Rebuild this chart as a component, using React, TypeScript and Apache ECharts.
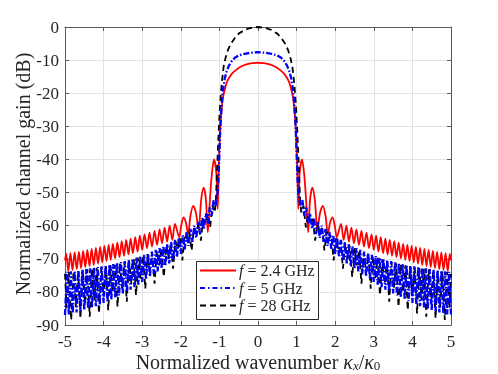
import React, { useEffect, useRef } from "react";
import * as echarts from "echarts";

// Right half (x >= 0) of each curve; the chart is mirrored about x = 0.
const redHalf: [number, number][] = [
  [0, -10.8], [0.15, -10.9], [0.3, -11.3], [0.45, -12.0], [0.55, -12.8], [0.65, -13.8],
  [0.72, -14.8], [0.78, -16.0], [0.83, -17.5], [0.87, -19.3], [0.91, -21.5], [0.94, -24.5],
  [0.97, -29], [0.99, -34], [1.01, -40], [1.03, -48], [1.045, -55], [1.08, -44], [1.14, -40],
  [1.2, -45], [1.25, -53], [1.3, -62], [1.35, -52], [1.41, -48.5], [1.47, -52], [1.54, -61],
  [1.61, -56], [1.68, -54], [1.75, -57], [1.81, -62.5], [1.87, -59], [1.93, -57.5], [1.99, -60],
  [2.04, -63.5], [2.15, -59.5], [2.22, -64.3], [2.29, -60.0], [2.355, -64.8], [2.42, -60.6],
  [2.485, -65.3], [2.55, -61.1], [2.615, -65.8], [2.68, -61.6], [2.745, -66.3], [2.81, -62.1],
  [2.875, -66.8], [2.94, -62.6], [3.0, -67.3], [3.06, -63.0], [3.12, -67.8], [3.18, -63.5],
  [3.24, -68.3], [3.3, -63.9], [3.357, -68.7], [3.415, -64.3], [3.472, -69.1], [3.53, -64.7],
  [3.587, -69.5], [3.645, -65.1], [3.702, -69.9], [3.76, -65.5], [3.815, -70.3], [3.87, -65.8],
  [3.925, -70.7], [3.98, -66.1], [4.035, -71.1], [4.09, -66.4], [4.145, -71.5], [4.2, -66.7],
  [4.255, -71.9], [4.31, -67.0], [4.365, -72.2], [4.42, -67.3], [4.475, -72.5], [4.53, -67.6],
  [4.585, -72.8], [4.64, -67.9], [4.695, -73.1], [4.75, -68.1], [4.805, -73.4], [4.86, -68.3],
  [4.915, -73.7], [4.97, -68.5], [5.0, -70.5],
];

const blueHalf: [number, number][] = [
  [0, -7.6], [0.2, -7.8], [0.35, -8.1], [0.5, -8.6], [0.6, -9.3], [0.68, -10.3], [0.75, -11.6],
  [0.81, -13.3], [0.86, -15.5], [0.9, -18.5], [0.93, -22], [0.96, -27], [0.985, -33],
  [1.005, -40], [1.025, -46], [1.05, -50.5],
  [1.1, -54], [1.15, -52.3], [1.2, -57], [1.25, -54.5], [1.3, -59.5], [1.35, -56.3],
  [1.4, -61], [1.45, -57.7], [1.5, -62.5], [1.55, -58.9], [1.6, -63.7], [1.65, -60],
  [1.7, -64.9], [1.75, -61], [1.8, -66.1], [1.85, -61.9], [1.9, -67.3], [1.95, -62.9],
  [2.0, -68.5], [2.05, -63.6], [2.1, -69.5], [2.15, -64.3], [2.2, -70.5], [2.25, -65],
  [2.3, -71.4], [2.35, -65.6], [2.4, -72.2], [2.45, -66.2], [2.5, -73], [2.55, -66.8],
  [2.6, -73.8], [2.65, -67.3], [2.7, -74.6], [2.75, -67.8], [2.8, -75.4], [2.85, -68.3],
  [2.9, -76.2], [2.95, -68.8], [3.0, -77], [3.05, -69.2], [3.1, -77.8], [3.15, -69.6],
  [3.2, -78.6], [3.25, -70], [3.3, -79.3], [3.35, -70.4], [3.4, -79.9], [3.45, -70.7],
  [3.5, -80.5], [3.55, -71], [3.6, -81.1], [3.65, -71.3], [3.7, -81.7], [3.75, -71.6],
  [3.8, -82.3], [3.85, -71.8], [3.9, -82.8], [3.95, -72.1], [4.0, -83.3], [4.05, -72.3],
  [4.1, -83.8], [4.15, -72.5], [4.2, -84.3], [4.25, -72.7], [4.3, -84.7], [4.35, -72.9],
  [4.4, -85.1], [4.45, -73.1], [4.5, -85.5], [4.55, -73.3], [4.6, -85.8], [4.65, -73.5],
  [4.7, -86.2], [4.75, -73.6], [4.8, -86.5], [4.85, -73.8], [4.9, -86.8], [4.95, -73.9],
  [5.0, -87],
];

const blackHalf: [number, number][] = [
  [0, 0], [0.2, -0.3], [0.35, -0.9], [0.5, -2], [0.6, -3.3], [0.7, -5], [0.78, -7],
  [0.84, -9.3], [0.89, -12], [0.93, -16], [0.96, -20], [0.99, -25], [1.02, -32], [1.05, -40],
  [1.07, -46], [1.09, -52],
  [1.12, -56], [1.18, -54], [1.24, -60.5], [1.3, -56.5], [1.36, -59], [1.42, -58], [1.48, -64.5],
  [1.54, -59.5], [1.6, -62], [1.66, -60.7], [1.72, -67.5], [1.78, -61.8], [1.84, -64],
  [1.9, -62.8], [1.96, -70.5], [2.02, -63.8], [2.08, -67], [2.14, -64.6], [2.2, -73],
  [2.26, -65.4], [2.32, -70], [2.38, -66.1], [2.44, -75.5], [2.5, -66.8], [2.56, -72],
  [2.62, -67.5], [2.68, -77.5], [2.74, -68.1], [2.8, -74], [2.86, -68.6], [2.92, -79],
  [2.98, -69.2], [3.04, -76], [3.1, -69.7], [3.16, -81], [3.22, -70.1], [3.28, -77.5],
  [3.34, -70.6], [3.4, -83], [3.46, -71], [3.52, -79], [3.58, -71.4], [3.64, -84.5],
  [3.7, -71.8], [3.76, -80], [3.82, -72], [3.88, -85.5], [3.94, -72.3], [4.0, -81],
  [4.06, -72.5], [4.12, -86.5], [4.18, -72.8], [4.24, -82.5], [4.3, -73], [4.36, -87.5],
  [4.42, -73.2], [4.48, -83.5], [4.54, -73.4], [4.6, -88], [4.66, -73.6], [4.72, -84.5],
  [4.78, -73.8], [4.84, -88.5], [4.9, -74], [4.96, -85], [5.0, -74.5],
];

const seriesNames = ["2.4 GHz", "5 GHz", "28 GHz"];
const xTicks = { min: -5, max: 5, interval: 1 };
const yTicks = { min: -90, max: 0, interval: 10 };

const mirror = (h: [number, number][]) => [
  ...h.slice(1).reverse().map(([x, y]) => [-x, y]),
  ...h,
];

const FONT = "Liberation Serif";
const AX = "#262626";

export default function App() {
  const ref = useRef<HTMLDivElement>(null);
  useEffect(() => {
    document.body.style.margin = "0";
    const chart = echarts.init(ref.current!, null, { renderer: "svg" });
    const baseAxis = {
      axisLine: { show: true, onZero: false, lineStyle: { color: "#5a5a5a", width: 1 } },
      axisTick: { show: true, inside: true, length: 4, lineStyle: { color: "#5a5a5a" } },
    };
    const legendRows = [
      { y: 270.5, color: "#ff0000", dash: "solid", text: seriesNames[0] },
      { y: 288, color: "#0000ff", dash: [5, 3, 1.5, 3], text: seriesNames[1] },
      { y: 305.5, color: "#000000", dash: [6, 4], text: seriesNames[2] },
    ];
    chart.setOption({
      animation: false,
      grid: { left: 65, right: 47, top: 27, bottom: 49 },
      xAxis: [
        {
          type: "value", ...xTicks, position: "bottom", ...baseAxis,
          axisLabel: { color: AX, fontFamily: FONT, fontSize: 17, lineHeight: 17, margin: 8 },
          splitLine: { show: true, lineStyle: { color: "#e3e3e3", width: 1 } },
        },
        {
          type: "value", ...xTicks, position: "top", ...baseAxis,
          axisLabel: { show: false }, splitLine: { show: false },
        },
      ],
      yAxis: [
        {
          type: "value", ...yTicks, position: "left", ...baseAxis,
          axisLabel: { color: AX, fontFamily: FONT, fontSize: 17, margin: 6 },
          splitLine: { show: true, lineStyle: { color: "#e3e3e3", width: 1 } },
        },
        {
          type: "value", ...yTicks, position: "right", ...baseAxis,
          axisLabel: { show: false }, splitLine: { show: false },
        },
      ],
      series: [
        {
          name: seriesNames[0], type: "line", data: mirror(redHalf), showSymbol: false,
          symbol: "none", smooth: 0.3, z: 2, lineStyle: { color: "#ff0000", width: 1.8 },
        },
        {
          name: seriesNames[1], type: "line", data: mirror(blueHalf), showSymbol: false,
          symbol: "none", z: 4, lineStyle: { color: "#0000ff", width: 2.3, type: [6, 2, 1.5, 2] },
        },
        {
          name: seriesNames[2], type: "line", data: mirror(blackHalf), showSymbol: false,
          symbol: "none", z: 3, lineStyle: { color: "#000000", width: 1.8, type: [6, 4] },
        },
      ],
      graphic: [
        {
          type: "text", x: 23, y: 174, rotation: Math.PI / 2, z: 100,
          style: {
            text: "Normalized channel gain (dB)", fill: AX, font: `20px "${FONT}"`,
            align: "center", verticalAlign: "middle",
          },
        },
        {
          type: "text", x: 258, y: 362, z: 100,
          style: {
            text: "{n|Normalized wavenumber }{i|κ}{s|x}{n|/}{i|κ}{s0|0}",
            align: "center", verticalAlign: "middle",
            rich: {
              n: { fontFamily: FONT, fontSize: 20, fill: AX, lineHeight: 20 },
              i: { fontFamily: FONT, fontSize: 20, fontStyle: "italic", fill: AX, lineHeight: 20 },
              s: { fontFamily: FONT, fontSize: 13, fontStyle: "italic", fill: AX, lineHeight: 11, verticalAlign: "bottom" },
              s0: { fontFamily: FONT, fontSize: 13, fill: AX, lineHeight: 11, verticalAlign: "bottom" },
            },
          },
        },
        {
          type: "rect", z: 100, shape: { x: 196.5, y: 261.5, width: 122, height: 58 },
          style: { fill: "#ffffff", stroke: "#262626", lineWidth: 1 },
        },
        ...legendRows.flatMap((r) => [
          {
            type: "line", z: 101, shape: { x1: 200, y1: r.y, x2: 236, y2: r.y },
            style: { stroke: r.color, lineWidth: 1.8, lineDash: r.dash },
          },
          {
            type: "text", z: 101, x: 239, y: r.y,
            style: {
              text: `{i|f} = ${r.text}`, verticalAlign: "middle", align: "left",
              rich: {
                i: { fontFamily: FONT, fontSize: 16, fontStyle: "italic", fill: AX },
              },
              font: `16px "${FONT}"`, fill: AX,
            },
          },
        ]),
      ],
    });
    return () => chart.dispose();
  }, []);
  return (
    <div
      ref={ref}
      style={{ position: "fixed", left: 0, top: 0, width: 498, height: 374 }}
    />
  );
}
